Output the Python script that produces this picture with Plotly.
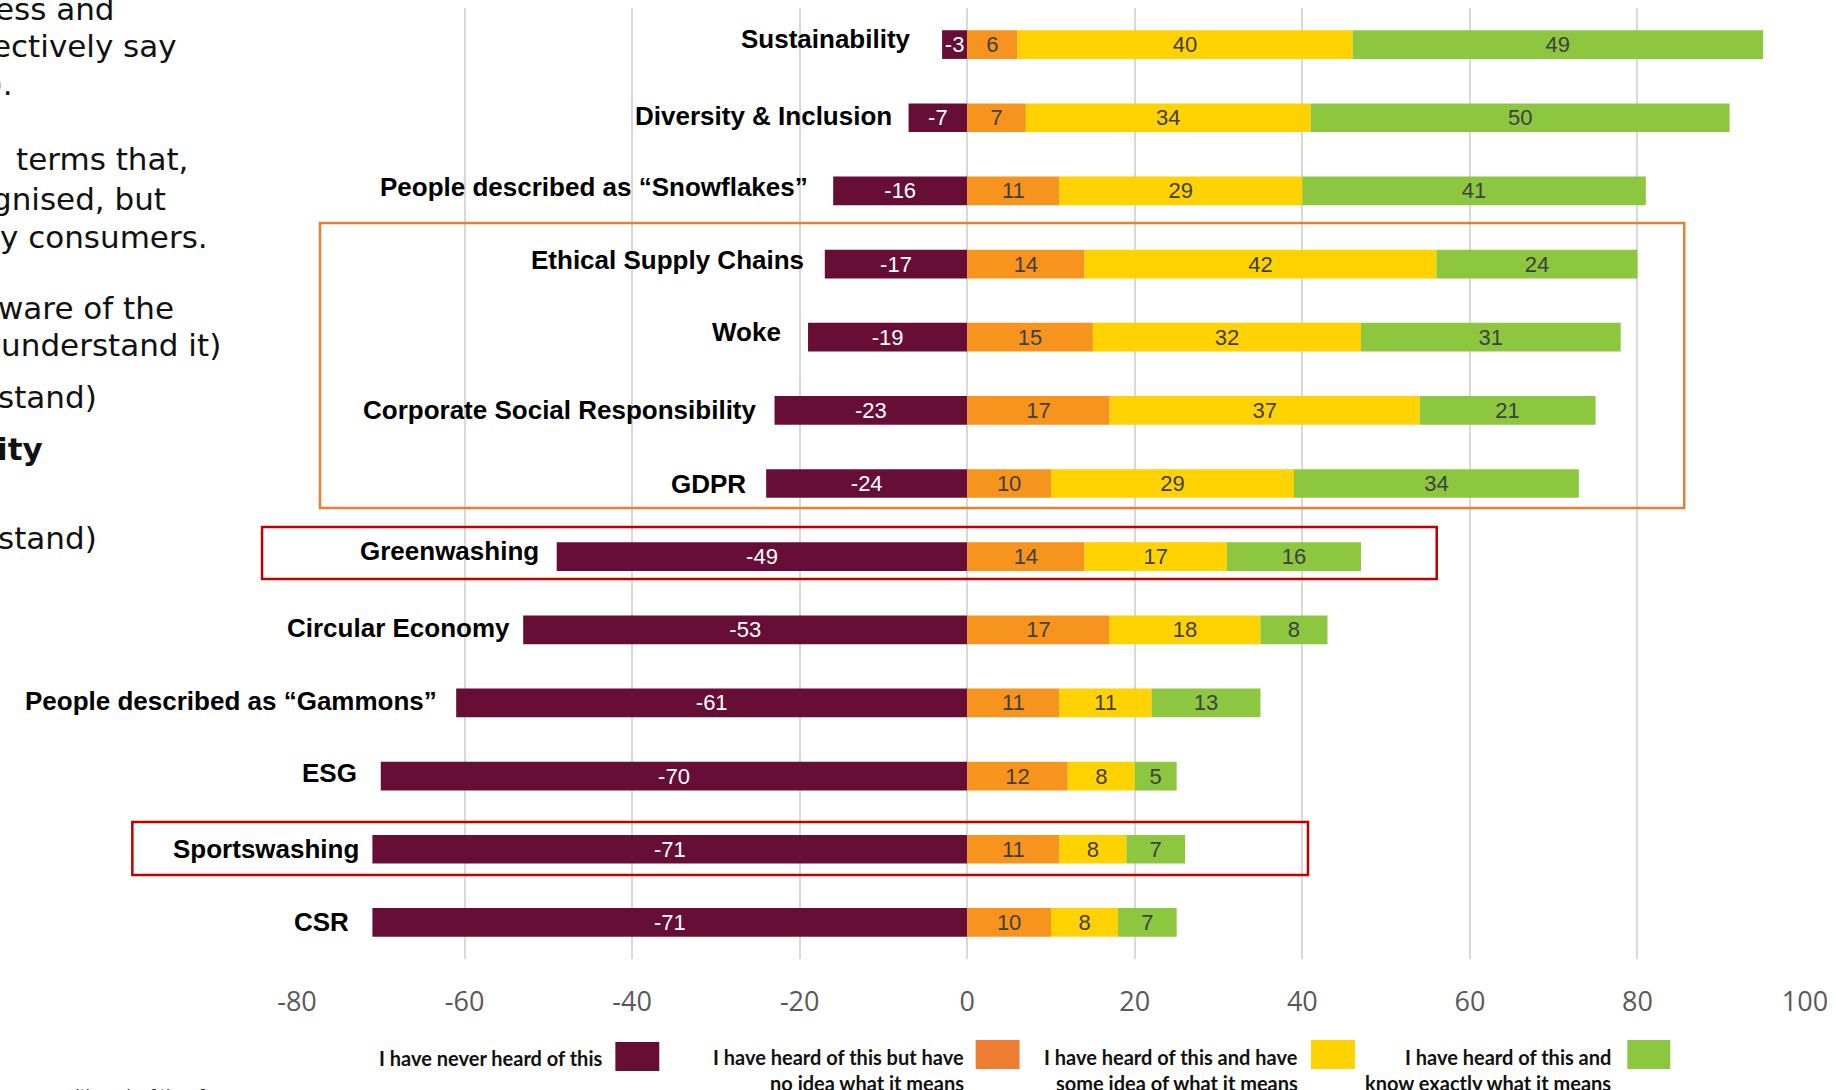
import plotly.graph_objects as go

# ---------------- data ----------------
categories = [
    "Sustainability",
    "Diversity & Inclusion",
    "People described as \u201cSnowflakes\u201d",
    "Ethical Supply Chains",
    "Woke",
    "Corporate Social Responsibility",
    "GDPR",
    "Greenwashing",
    "Circular Economy",
    "People described as \u201cGammons\u201d",
    "ESG",
    "Sportswashing",
    "CSR",
]
never_heard = [-3, -7, -16, -17, -19, -23, -24, -49, -53, -61, -70, -71, -71]
heard_no_idea = [6, 7, 11, 14, 15, 17, 10, 14, 17, 11, 12, 11, 10]
some_idea = [40, 34, 29, 42, 32, 37, 29, 17, 18, 11, 8, 8, 8]
know_exactly = [49, 50, 41, 24, 31, 21, 34, 16, 8, 13, 5, 7, 7]

series_names = [
    "I have never heard of this",
    "I have heard of this but have no idea what it means",
    "I have heard of this and have some idea of what it means",
    "I have heard of this and know exactly what it means",
]
legend_lines = [
    ["I have never heard of this"],
    ["I have heard of this but have", "no idea what it means"],
    ["I have heard of this and have", "some idea of what it means"],
    ["I have heard of this and", "know exactly what it means"],
]
x_ticks = [-80, -60, -40, -20, 0, 20, 40, 60, 80, 100]

left_text_lines = [
    ("ess and", False), ("ectively say", False), ("0).", False),
    ("terms that,", False), ("gnised, but", False), ("y consumers.", False),
    ("ware of the", False), ("(understand it)", False), ("stand)", False),
    ("ity", True), ("stand)", False),
]
footnote = "are you with each of them?"

# ---------------- styles ----------------
W, H = 1836, 1090
L, R, T, B = 297, 28, 8, 131
bar_colors = ["#660E35", "#F7941D", "#FFD200", "#8DC63F"]
swatch_colors = ["#660E35", "#ED7D31", "#FFD200", "#8DC63F"]
text_colors = ["#FFFFFF", "#404040", "#404040", "#404040"]

label_gap = [29, 15, 23, 19, 25, 16, 18, 16, 11, 17, 22, 11, 21]
label_lift = [6, 2, 4, 4, 5, 0, 0, 6, 2, 2, 3, 0, 0]


def px_x(px):
    return (px - L) / (W - L - R)


def px_y(py):
    return (H - B - py) / (H - B - T)


fig = go.Figure()
for vals, name, col, tcol in zip(
    [never_heard, heard_no_idea, some_idea, know_exactly],
    series_names, bar_colors, text_colors,
):
    fig.add_trace(go.Bar(
        y=categories, x=vals, name=name, orientation="h",
        marker=dict(color=col, line=dict(width=0)),
        text=[str(v) for v in vals], texttemplate="%{text}", textposition="inside",
        insidetextanchor="middle", textangle=0,
        textfont=dict(family="Liberation Sans, Arial", size=22, color=tcol),
        showlegend=False, hoverinfo="skip",
    ))

annotations = []
shapes = []

# category labels next to bar start
for i, cat in enumerate(categories):
    annotations.append(dict(
        x=never_heard[i], y=cat, xref="x", yref="y",
        text=f"<b>{cat}</b>", showarrow=False, xanchor="right", yanchor="middle",
        xshift=-label_gap[i], yshift=label_lift[i],
        font=dict(family="Liberation Sans, Arial", size=26, color="#000000"),
    ))

# left cropped paragraph text
left_y = [9, 46, 84, 159, 199, 237, 308, 345, 397, 449, 538]
left_xe = [117, 179, 14, 190, 168, 210, 176, 223, 99, 44, 99]
for (txt, bold), yy, xe in zip(left_text_lines, left_y, left_xe):
    annotations.append(dict(
        x=px_x(xe), y=px_y(yy), xref="paper", yref="paper",
        text=f"<b>{txt}</b>" if bold else txt, showarrow=False,
        xanchor="right", yanchor="middle",
        font=dict(family="DejaVu Sans", size=31, color="#111111"),
    ))

annotations.append(dict(
    x=px_x(209), y=px_y(1085), xref="paper", yref="paper",
    text=footnote, showarrow=False, xanchor="right", yanchor="top",
    font=dict(family="DejaVu Sans", size=15, color="#111111"),
))

# highlight boxes
box_specs = [
    (320, 223, 1687, 508, "#ED7D31"),
    (262, 527, 1439, 579, "#C00000"),
    (132, 822, 1310, 875, "#C00000"),
]
for x0, y0, x1, y1, c in box_specs:
    shapes.append(dict(
        type="rect", xref="paper", yref="paper",
        x0=px_x(x0), x1=px_x(x1), y0=px_y(y0), y1=px_y(y1),
        line=dict(color=c, width=2.5), fillcolor="rgba(0,0,0,0)", layer="above",
    ))

# custom legend
swatches = [(616, 1042, 660, 1071), (977, 1040, 1021, 1069),
            (1313, 1040, 1357, 1069), (1630, 1040, 1673, 1069)]
text_right = [605, 967, 1302, 1616]
line_y = [1057, 1083]
for k, (sw, xr, lines) in enumerate(zip(swatches, text_right, legend_lines)):
    shapes.append(dict(
        type="rect", xref="paper", yref="paper",
        x0=px_x(sw[0]), x1=px_x(sw[2]), y0=px_y(sw[1]), y1=px_y(sw[3]),
        line=dict(width=0), fillcolor=swatch_colors[k], layer="above",
    ))
    for j, ln in enumerate(lines):
        annotations.append(dict(
            x=px_x(xr), y=px_y(line_y[j] + (1 if k == 0 else 0)),
            xref="paper", yref="paper",
            text=f"<b>{ln}</b>", showarrow=False,
            xanchor="right", yanchor="middle",
            font=dict(family="Lato", size=20, color="#111111"),
        ))

fig.update_layout(
    width=W, height=H,
    margin=dict(l=L, r=R, t=T, b=B, pad=0),
    barmode="relative", bargap=0.608,
    plot_bgcolor="white", paper_bgcolor="white",
    uniformtext=dict(minsize=22, mode="show"),
    xaxis=dict(
        range=[-80, 100], tickvals=x_ticks, ticktext=[str(v) for v in x_ticks],
        showgrid=True, gridcolor="#D9D9D9", gridwidth=1.5,
        zeroline=False, showline=False, ticks="",
        tickfont=dict(family="Open Sans", size=27, color="#595959"),
        ticklabelstandoff=24, fixedrange=True,
    ),
    yaxis=dict(
        categoryorder="array", categoryarray=categories,
        range=[len(categories) - 0.5, -0.5],
        showticklabels=False, showgrid=False, zeroline=False, ticks="",
        fixedrange=True,
    ),
    annotations=annotations,
    shapes=shapes,
)

fig.write_html(
    "out.html",
    config={"displayModeBar": False},
    post_script="document.body.style.margin='0px';document.body.style.overflow='hidden';",
)
